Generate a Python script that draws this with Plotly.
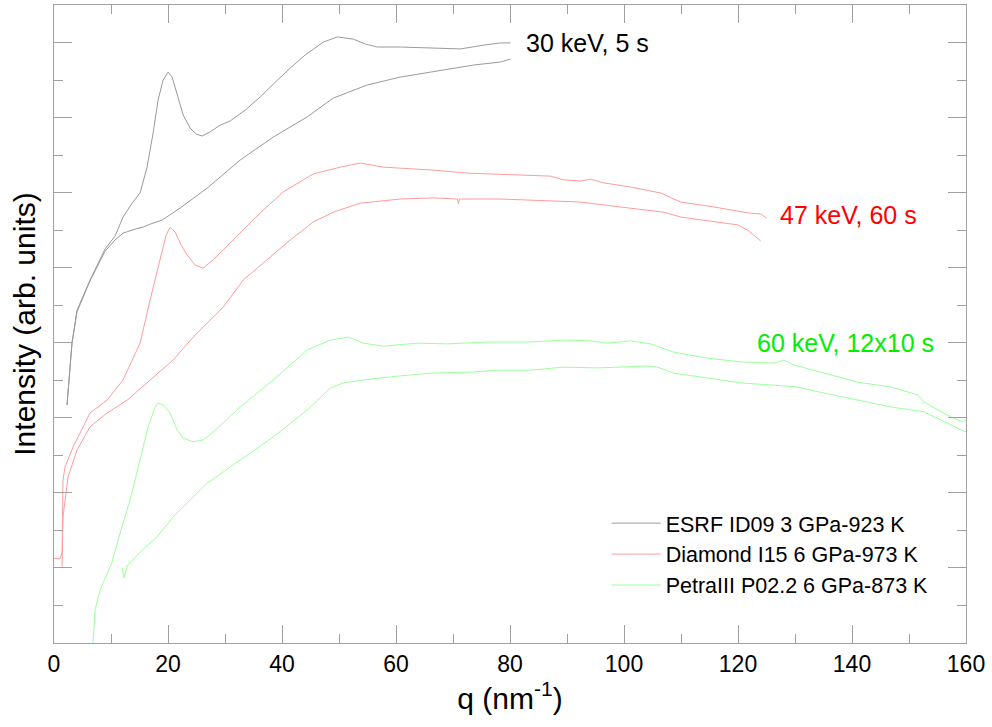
import plotly.graph_objects as go

# ---- data (q in nm^-1, intensity in arbitrary offset units) ----
esrf_peak_q = [2.28, 3.16, 4.04, 6.32, 8.96, 10.71, 12.12, 13.70, 15.10, 16.33, 17.39, 18.26, 19.14,
               20.02, 20.72, 21.60, 22.66, 23.88, 24.94, 25.99, 27.40, 29.16, 30.91, 33.55, 36.18,
               38.46, 41.45, 44.08, 47.24, 49.70, 52.51, 54.62, 56.73, 60.77, 68.32, 71.31, 75.35,
               78.33, 80.08]
esrf_peak_i = [6.34, 7.99, 8.87, 9.67, 10.50, 10.84, 11.35, 11.72, 11.99, 12.68, 13.59, 14.47, 15.00,
               15.21, 15.08, 14.60, 14.07, 13.72, 13.56, 13.51, 13.62, 13.80, 13.91, 14.20, 14.55,
               14.89, 15.32, 15.67, 16.01, 16.15, 16.09, 15.96, 15.88, 15.88, 15.85, 15.83, 15.93,
               15.99, 15.99]

esrf_smooth_q = [2.28, 3.16, 4.04, 6.32, 8.96, 10.71, 12.12, 14.23, 15.63, 16.86, 18.97, 22.13, 26.87,
                 32.67, 38.46, 44.43, 49.00, 54.97, 60.77, 68.32, 73.59, 78.33, 80.08]
esrf_smooth_i = [6.34, 7.99, 8.82, 9.65, 10.44, 10.74, 10.92, 11.03, 11.08, 11.16, 11.27, 11.59, 12.12,
                 12.87, 13.48, 14.02, 14.52, 14.87, 15.08, 15.27, 15.40, 15.48, 15.56]

diam_peak_q = [0.00, 1.05, 1.41, 1.58, 1.93, 3.34, 6.32, 9.31, 12.12, 15.10, 16.86, 18.26, 18.97, 19.67,
               20.37, 21.25, 22.31, 23.36, 24.76, 26.17, 27.93, 31.44, 36.18, 40.22, 45.49, 50.23,
               53.74, 57.78, 66.56, 72.54, 80.61, 87.11, 89.40, 92.38, 94.14, 96.42, 101.16, 106.43,
               109.94, 115.74, 121.71, 123.99, 125.05]
diam_peak_i = [2.26, 2.24, 2.40, 4.34, 4.69, 5.22, 6.13, 6.47, 7.01, 7.99, 9.14, 10.02, 10.47, 10.87,
               11.08, 10.95, 10.60, 10.34, 10.07, 9.99, 10.21, 10.74, 11.46, 12.02, 12.50, 12.68,
               12.79, 12.68, 12.60, 12.52, 12.47, 12.44, 12.34, 12.31, 12.36, 12.26, 12.15, 11.99,
               11.75, 11.62, 11.46, 11.43, 11.32]

diam_smooth_q = [1.41, 1.58, 2.46, 4.04, 6.32, 9.31, 12.82, 16.86, 20.90, 24.41, 29.68, 33.19, 37.41,
                 41.45, 45.49, 49.00, 53.74, 60.77, 66.56, 70.78, 70.96, 71.13, 78.33, 92.38, 98.17,
                 106.96, 109.94, 115.74, 119.95, 121.71, 123.99]
diam_smooth_i = [2.00, 3.36, 4.42, 5.14, 5.76, 6.13, 6.47, 7.01, 7.54, 8.15, 8.95, 9.67, 10.21,
                 10.74, 11.22, 11.48, 11.72, 11.83, 11.86, 11.83, 11.70, 11.83, 11.83, 11.75, 11.64,
                 11.48, 11.35, 11.24, 11.14, 11.00, 10.71]

petra_peak_q = [6.85, 7.20, 8.08, 9.31, 10.19, 11.59, 13.35, 15.10, 16.51, 17.74, 18.26, 19.14, 20.37,
                21.60, 22.66, 24.41, 26.17, 27.93, 32.67, 38.46, 44.43, 48.47, 51.64, 54.27, 57.78,
                63.75, 69.02, 76.05, 83.60, 89.40, 94.14, 97.12, 101.16, 104.67, 108.71, 114.68,
                120.48, 126.28, 128.03, 129.79, 135.06, 141.03, 146.83, 149.81, 151.57, 152.62,
                155.08, 157.37, 159.47, 160.00]
petra_peak_i = [0.00, 0.88, 1.41, 1.87, 2.16, 2.93, 3.81, 4.88, 5.76, 6.29, 6.39, 6.34, 6.13,
                5.68, 5.46, 5.36, 5.41, 5.62, 6.29, 7.01, 7.81, 8.07, 8.15, 7.99, 7.91,
                7.99, 7.97, 8.02, 8.02, 8.07, 8.05, 7.99, 8.05, 7.97, 7.75, 7.59,
                7.49, 7.46, 7.54, 7.41, 7.19, 6.95, 6.82, 6.69, 6.61, 6.42,
                6.21, 6.02, 5.89, 5.94]

petra_smooth_q = [11.94, 12.29, 12.82, 15.10, 18.09, 20.90, 26.87, 32.67, 38.46, 44.43, 48.47, 50.76,
                  54.27, 60.24, 66.04, 73.59, 77.80, 83.60, 89.40, 95.37, 100.64, 104.15, 105.91,
                  108.71, 114.68, 120.48, 126.28, 130.49, 135.06, 141.03, 146.83, 152.62, 155.61,
                  157.89, 160.00]
petra_smooth_i = [2.00, 1.73, 2.05, 2.42, 2.83, 3.36, 4.26, 4.88, 5.49, 6.21, 6.79, 6.93,
                  7.01, 7.11, 7.19, 7.22, 7.27, 7.27, 7.35, 7.33, 7.35, 7.38, 7.35,
                  7.19, 7.06, 6.93, 6.87, 6.82, 6.66, 6.47, 6.29, 6.16, 5.94,
                  5.76, 5.62]

series_names = ["ESRF ID09 3 GPa-923 K", "Diamond I15 6 GPa-973 K", "PetraIII P02.2 6 GPa-873 K"]
label_texts = ["30 keV, 5 s", "47 keV, 60 s", "60 keV, 12x10 s"]
label_q = [82.5, 127.0, 122.9]
label_i = [15.99, 11.40, 7.99]

line_colors = ["#9a9a9a", "#ff9c9c", "#9cff9c"]
label_colors = ["#000000", "#ff0000", "#00ee00"]
FONT = "Liberation Sans, Arial, sans-serif"

fig = go.Figure()
pairs = [
    (esrf_peak_q, esrf_peak_i, esrf_smooth_q, esrf_smooth_i),
    (diam_peak_q, diam_peak_i, diam_smooth_q, diam_smooth_i),
    (petra_peak_q, petra_peak_i, petra_smooth_q, petra_smooth_i),
]
# legend entries first (peak curves), then the smooth curves without legend
for k, (q1, i1, q2, i2) in enumerate(pairs):
    fig.add_trace(go.Scatter(x=q1, y=i1, mode="lines", name=series_names[k],
                             line=dict(color=line_colors[k], width=1)))
for k, (q1, i1, q2, i2) in enumerate(pairs):
    fig.add_trace(go.Scatter(x=q2, y=i2, mode="lines", name=series_names[k], showlegend=False,
                             line=dict(color=line_colors[k], width=1)))

for t, xq, yi, c in zip(label_texts, label_q, label_i, label_colors):
    fig.add_annotation(x=xq, y=yi, text=t, showarrow=False, xanchor="left", yanchor="middle",
                       font=dict(family=FONT, size=25, color=c))

axis_common = dict(showline=True, linecolor="#a0a0a0", linewidth=1, mirror="allticks",
                   ticks="inside", tickcolor="#a0a0a0", ticklen=18, tickwidth=1,
                   showgrid=False, zeroline=False)

fig.update_layout(
    width=992, height=727,
    margin=dict(l=54, r=26, t=5, b=84),
    paper_bgcolor="white", plot_bgcolor="white",
    font=dict(family=FONT, color="black"),
    xaxis=dict(range=[0, 160], tick0=0, dtick=20,
               tickfont=dict(size=23, family=FONT),
               minor=dict(ticks="inside", dtick=10, ticklen=9, tickcolor="#a0a0a0", showgrid=False),
               title=dict(text="q (nm<sup>-1</sup>)", font=dict(size=30, family=FONT), standoff=12),
               **axis_common),
    yaxis=dict(range=[0, 17], tick0=0, dtick=2, showticklabels=False,
               minor=dict(ticks="inside", dtick=1, ticklen=9, tickcolor="#a0a0a0", showgrid=False),
               title=dict(text="Intensity (arb. units)", font=dict(size=30, family=FONT), standoff=8),
               **axis_common),
    legend=dict(x=0.606, y=0.22, xanchor="left", yanchor="top",
                bgcolor="rgba(0,0,0,0)", font=dict(size=21.5, family=FONT),
                itemwidth=49, tracegroupgap=0),
    showlegend=True,
)

fig.write_html("out.html")
